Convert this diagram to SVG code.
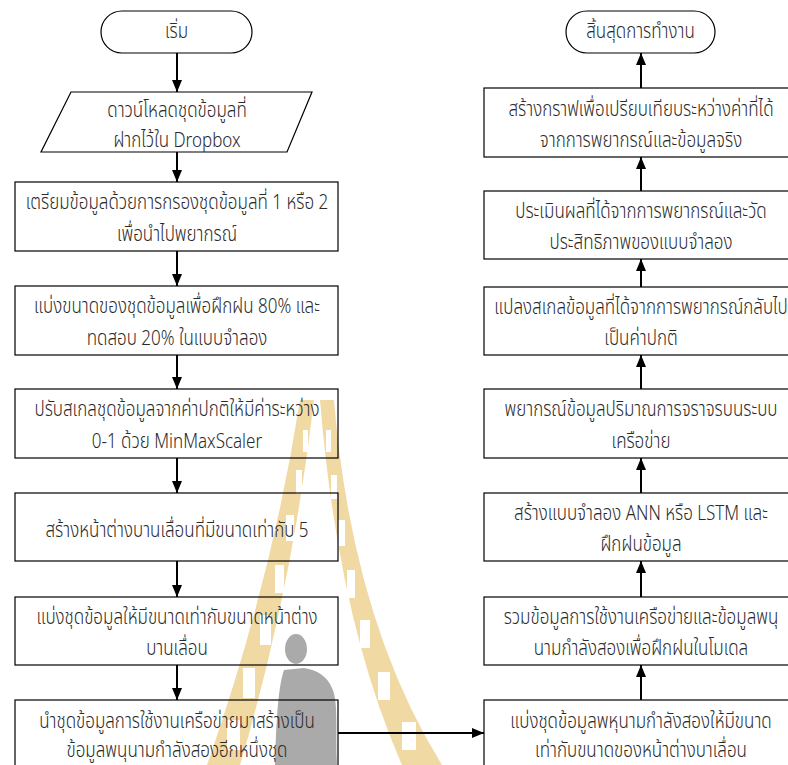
<svg xmlns="http://www.w3.org/2000/svg" width="788" height="765" viewBox="0 0 788 765">
<style>
.bx{fill:none;stroke:#000;stroke-width:1.2}
.t{font-family:"Noto Sans Thai","Leelawadee UI",Tahoma,"Noto Sans","DejaVu Sans",sans-serif;font-size:21px;font-weight:300;fill:#2a2a2a;text-anchor:middle}
.cn{stroke:#000;stroke-width:2;fill:none;marker-end:url(#ah)}
.wm{fill:#f1d9a4}
.hole{fill:#fff}
</style>
<defs>
<marker id="ah" viewBox="0 0 12 10" refX="12" refY="5" markerWidth="12" markerHeight="10" markerUnits="userSpaceOnUse" orient="auto">
<path d="M0,0 L12,5 L0,10 z" fill="#000"/>
</marker>
</defs>
<rect width="788" height="765" fill="#fff"/>
<g id="watermark">
<path class="wm" d="M300,400 L314,400 Q292,590 240,765 L207,765 Q272,580 300,400 Z"/>
<path class="wm" d="M320,400 L334,400 Q352,620 442,765 L402,765 Q338,620 320,400 Z"/>
<rect class="hole" x="303" y="430" width="5" height="22"/>
<rect class="hole" x="296" y="470" width="6" height="24"/>
<rect class="hole" x="286" y="515" width="8" height="26"/>
<rect class="hole" x="275" y="565" width="9" height="28"/>
<rect class="hole" x="260" y="615" width="11" height="30"/>
<rect class="hole" x="243" y="668" width="12" height="30"/>
<rect class="hole" x="227" y="720" width="13" height="30"/>
<rect class="hole" x="326" y="430" width="5" height="22"/>
<rect class="hole" x="331" y="475" width="6" height="24"/>
<rect class="hole" x="338" y="520" width="7" height="26"/>
<rect class="hole" x="347" y="570" width="8" height="28"/>
<rect class="hole" x="360" y="620" width="10" height="28"/>
<rect class="hole" x="378" y="672" width="12" height="28"/>
<rect class="hole" x="402" y="722" width="14" height="28"/>
<ellipse cx="296" cy="649" rx="11" ry="15" fill="#aaaaaa"/>
<path d="M284,670 C277,690 276,735 275,765 L337,765 C335,735 339,702 332,688 C327,676 317,670 304,668 Z" fill="#aaaaaa"/>
</g>
<g id="connectors">
<line class="cn" x1="177" y1="53" x2="177" y2="92"/>
<line class="cn" x1="177" y1="152" x2="177" y2="182"/>
<line class="cn" x1="177" y1="251" x2="177" y2="286"/>
<line class="cn" x1="177" y1="355" x2="177" y2="389"/>
<line class="cn" x1="177" y1="458" x2="177" y2="493"/>
<line class="cn" x1="177" y1="561" x2="177" y2="597"/>
<line class="cn" x1="177" y1="665" x2="177" y2="700"/>
<line class="cn" x1="338" y1="733" x2="484" y2="733"/>
<line class="cn" x1="641" y1="700" x2="641" y2="665"/>
<line class="cn" x1="641" y1="597" x2="641" y2="561"/>
<line class="cn" x1="641" y1="493" x2="641" y2="458"/>
<line class="cn" x1="641" y1="389" x2="641" y2="355"/>
<line class="cn" x1="641" y1="287" x2="641" y2="259"/>
<line class="cn" x1="641" y1="191" x2="641" y2="157"/>
<line class="cn" x1="641" y1="88" x2="641" y2="53"/>
</g>
<g id="start">
<rect class="bx" x="101" y="11" width="151" height="42" rx="21"/>
<text class="t" transform="matrix(0.81 0 0 1 33.535 0)" x="176.5" y="38">เริ่ม</text>
</g>
<g id="download">
<polygon class="bx" points="71,92 312,92 287,152 41,152"/>
<text class="t" transform="matrix(0.81 0 0 1 33.63 0)" x="177" y="117">ดาวน์โหลดชุดข้อมูลที่</text>
<text class="t" transform="matrix(0.81 0 0 1 33.63 0)" x="177" y="147">ฝากไว้ใน Dropbox</text>
</g>
<g id="prepare">
<rect class="bx" x="15" y="182" width="323" height="69"/>
<text class="t" transform="matrix(0.81 0 0 1 33.63 0)" x="177" y="209">เตรียมข้อมูลด้วยการกรองชุดข้อมูลที่ 1 หรือ 2</text>
<text class="t" transform="matrix(0.81 0 0 1 33.63 0)" x="177" y="241">เพื่อนำไปพยากรณ์</text>
</g>
<g id="split">
<rect class="bx" x="15" y="286" width="323" height="69"/>
<text class="t" transform="matrix(0.81 0 0 1 33.63 0)" x="177" y="313">แบ่งขนาดของชุดข้อมูลเพื่อฝึกฝน 80% และ</text>
<text class="t" transform="matrix(0.81 0 0 1 33.63 0)" x="177" y="345">ทดสอบ 20% ในแบบจำลอง</text>
</g>
<g id="scale">
<rect class="bx" x="15" y="389" width="323" height="69"/>
<text class="t" transform="matrix(0.81 0 0 1 33.63 0)" x="177" y="416">ปรับสเกลชุดข้อมูลจากค่าปกติให้มีค่าระหว่าง</text>
<text class="t" transform="matrix(0.81 0 0 1 33.63 0)" x="177" y="448">0-1 ด้วย MinMaxScaler</text>
</g>
<g id="window">
<rect class="bx" x="15" y="493" width="323" height="68"/>
<text class="t" transform="matrix(0.81 0 0 1 33.63 0)" x="177" y="537">สร้างหน้าต่างบานเลื่อนที่มีขนาดเท่ากับ 5</text>
</g>
<g id="slice">
<rect class="bx" x="15" y="597" width="323" height="68"/>
<text class="t" transform="matrix(0.81 0 0 1 33.63 0)" x="177" y="624">แบ่งชุดข้อมูลให้มีขนาดเท่ากับขนาดหน้าต่าง</text>
<text class="t" transform="matrix(0.81 0 0 1 33.63 0)" x="177" y="655">บานเลื่อน</text>
</g>
<g id="poly">
<rect class="bx" x="15" y="700" width="323" height="80"/>
<text class="t" transform="matrix(0.81 0 0 1 33.63 0)" x="177" y="728">นำชุดข้อมูลการใช้งานเครือข่ายมาสร้างเป็น</text>
<text class="t" transform="matrix(0.81 0 0 1 33.63 0)" x="177" y="757">ข้อมูลพนุนามกำลังสองอีกหนึ่งชุด</text>
</g>
<g id="end">
<rect class="bx" x="566" y="11" width="149" height="42" rx="21"/>
<text class="t" transform="matrix(0.81 0 0 1 121.695 0)" x="640.5" y="38">สิ้นสุดการทำงาน</text>
</g>
<g id="graph">
<rect class="bx" x="484" y="88" width="330" height="69"/>
<text class="t" transform="matrix(0.81 0 0 1 121.79 0)" x="641" y="116">สร้างกราฟเพื่อเปรียบเทียบระหว่างค่าที่ได้</text>
<text class="t" transform="matrix(0.81 0 0 1 121.79 0)" x="641" y="147">จากการพยากรณ์และข้อมูลจริง</text>
</g>
<g id="evaluate">
<rect class="bx" x="484" y="191" width="330" height="68"/>
<text class="t" transform="matrix(0.81 0 0 1 121.79 0)" x="641" y="218">ประเมินผลที่ได้จากการพยากรณ์และวัด</text>
<text class="t" transform="matrix(0.81 0 0 1 121.79 0)" x="641" y="249">ประสิทธิภาพของแบบจำลอง</text>
</g>
<g id="inverse">
<rect class="bx" x="484" y="287" width="330" height="68"/>
<text class="t" transform="matrix(0.81 0 0 1 121.79 0)" x="641" y="314">แปลงสเกลข้อมูลที่ได้จากการพยากรณ์กลับไป</text>
<text class="t" transform="matrix(0.81 0 0 1 121.79 0)" x="641" y="345">เป็นค่าปกติ</text>
</g>
<g id="predict">
<rect class="bx" x="484" y="389" width="330" height="69"/>
<text class="t" transform="matrix(0.81 0 0 1 121.79 0)" x="641" y="416">พยากรณ์ข้อมูลปริมาณการจราจรบนระบบ</text>
<text class="t" transform="matrix(0.81 0 0 1 121.79 0)" x="641" y="448">เครือข่าย</text>
</g>
<g id="model">
<rect class="bx" x="484" y="493" width="330" height="68"/>
<text class="t" transform="matrix(0.81 0 0 1 121.79 0)" x="641" y="520">สร้างแบบจำลอง ANN หรือ LSTM และ</text>
<text class="t" transform="matrix(0.81 0 0 1 121.79 0)" x="641" y="551">ฝึกฝนข้อมูล</text>
</g>
<g id="merge">
<rect class="bx" x="484" y="597" width="330" height="68"/>
<text class="t" transform="matrix(0.81 0 0 1 121.79 0)" x="641" y="624">รวมข้อมูลการใช้งานเครือข่ายและข้อมูลพนุ</text>
<text class="t" transform="matrix(0.81 0 0 1 121.79 0)" x="641" y="655">นามกำลังสองเพื่อฝึกฝนในโมเดล</text>
</g>
<g id="polysplit">
<rect class="bx" x="484" y="700" width="330" height="80"/>
<text class="t" transform="matrix(0.81 0 0 1 121.79 0)" x="641" y="728">แบ่งชุดข้อมูลพหุนามกำลังสองให้มีขนาด</text>
<text class="t" transform="matrix(0.81 0 0 1 121.79 0)" x="641" y="757">เท่ากับขนาดของหน้าต่างบาเลื่อน</text>
</g>
</svg>
